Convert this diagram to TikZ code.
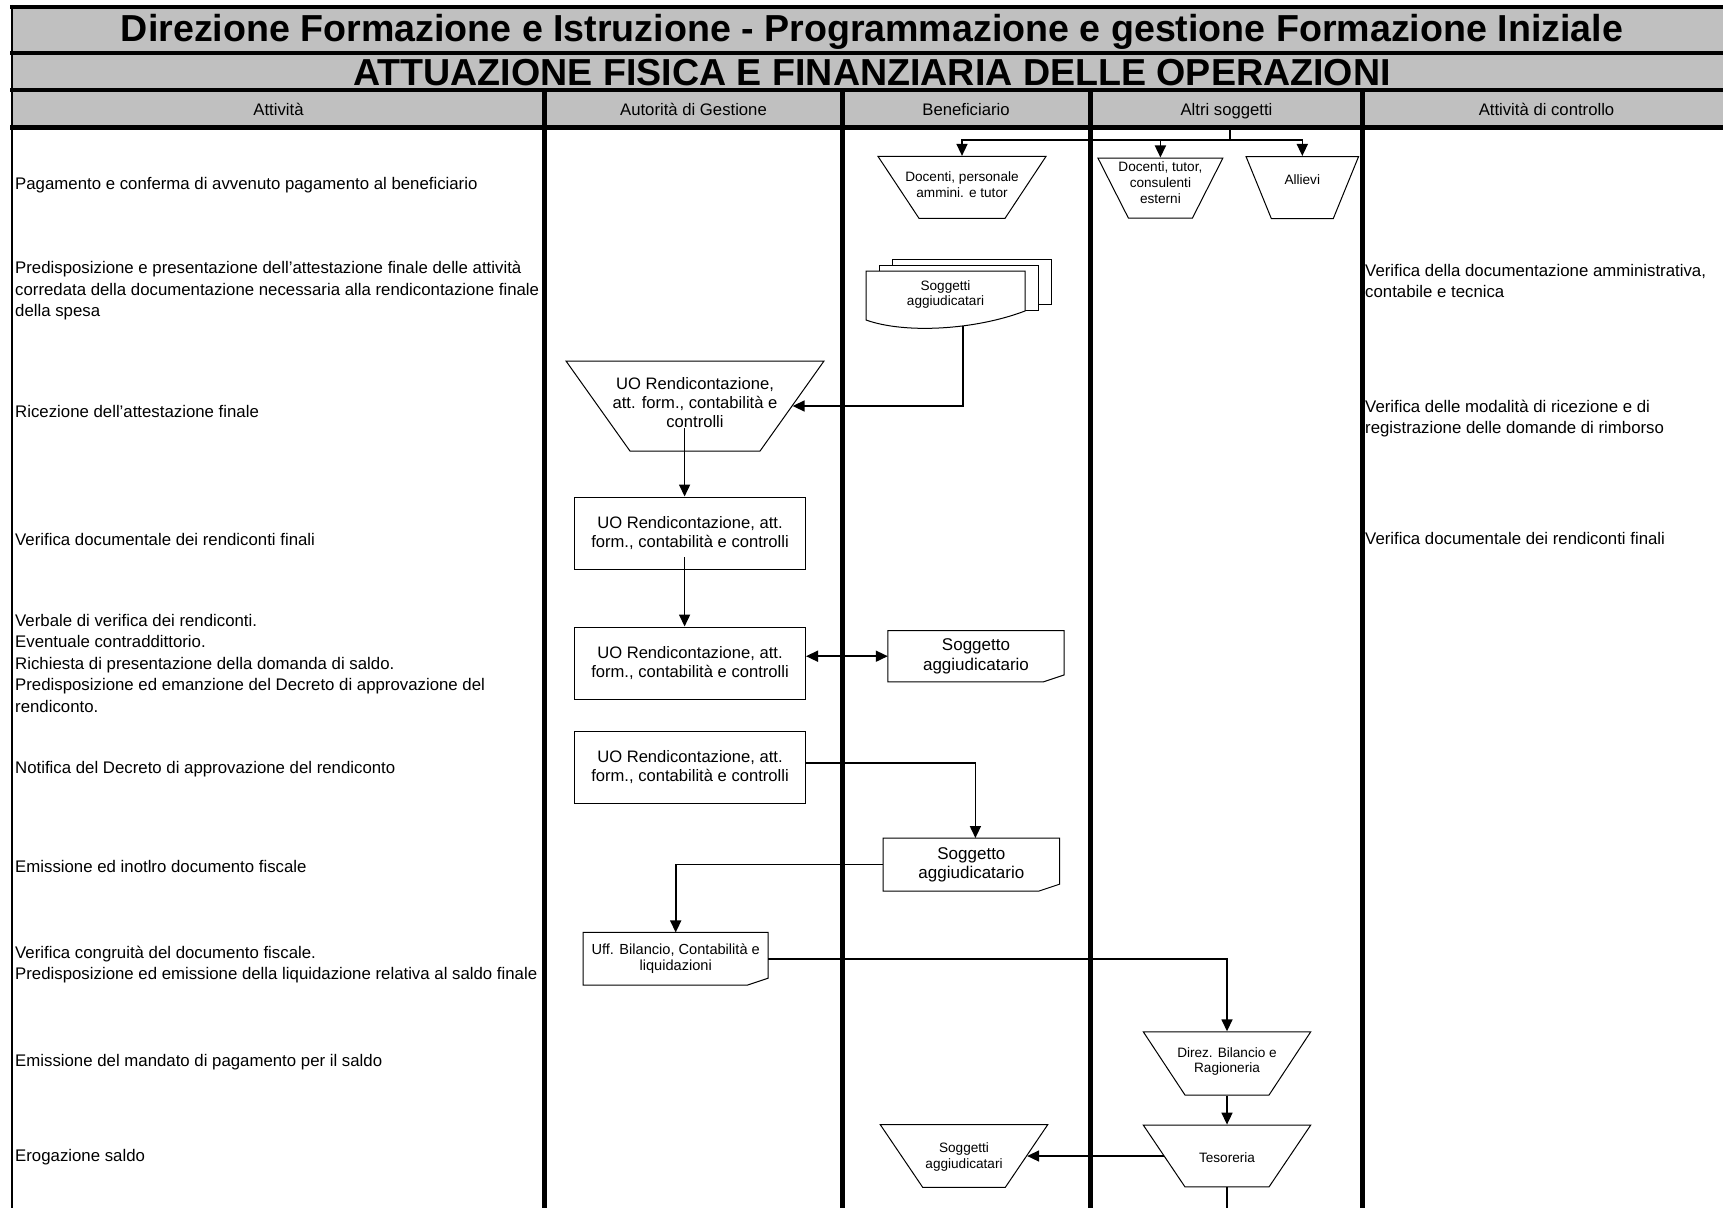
\documentclass[tikz,border=0pt]{standalone}
\usepackage{fontspec}
\setmainfont{Liberation Sans}
\usetikzlibrary{shapes.geometric,arrows.meta}

\definecolor{headgray}{RGB}{192,192,192}

% zero-width text block, so the text does not size the shape
\newcommand{\shapetext}[2][0pt]{\makebox[0pt]{\raisebox{#1}[\height][\depth]{\begin{tabular}{@{}c@{}}#2\end{tabular}}}}

\tikzset{
  rowrule/.style={line width=4.4pt},
  lanerule/.style={line width=4.3pt},
  bigtitle/.style={anchor=base, inner sep=0pt, font=\bfseries\fontsize{37.6}{40}\selectfont},
  colhead/.style={anchor=base, inner sep=0pt, font=\fontsize{16.7}{20}\selectfont},
  activity/.style={anchor=west, align=left, inner sep=0pt, font=\fontsize{16.8}{21.5}\selectfont},
  smalltext/.style={font=\fontsize{13.6}{15.8}\selectfont},
  midtext/.style={font=\fontsize{16.6}{19.3}\selectfont},
  % top width, half height, side angle
  manual/.style n args={3}{trapezium, trapezium angle=#3, shape border rotate=180,
    trapezium stretches body, minimum width=#1, text height=#2, text depth=#2,
    inner sep=0pt, draw, fill=white, line width=1pt},
  procbox/.style={rectangle, draw, fill=white, line width=1pt, inner sep=0pt,
    minimum width=231pt, minimum height=72pt, align=center, midtext},
  docbox/.style 2 args={rectangle, inner sep=0pt, align=center,
    minimum width=#1, minimum height=#2},
  flow/.style={line width=1.6pt, -{Triangle[length=12pt,width=11pt]}},
  twoway/.style={line width=1.6pt, {Triangle[length=12pt,width=11pt]}-{Triangle[length=12pt,width=11pt]}},
}

\begin{document}
\begin{tikzpicture}[x=1pt,y=-1pt]
  \useasboundingbox (0,0) rectangle (1723,1207);
  \clip (0,0) rectangle (1723,1207);
  \fill[white] (0,0) rectangle (1723,1207);

  % Header bands
  \fill[headgray] (12,7) rectangle (1735,127.5);
  \foreach \y in {7,53.3,90,127.5}
    \draw[rowrule] (10,\y) -- (1735,\y);

  % Left border and lane separators
  \draw[line width=2pt] (12,5) -- (12,1215);
  \foreach \x in {544.6,842.5,1090.5,1362.5}
    \draw[lanerule] (\x,90) -- (\x,1215);

  % Titles
  \node[bigtitle] (title) at (872,42) {Direzione Formazione e Istruzione - Programmazione e gestione Formazione Iniziale};
  \node[bigtitle] (subtitle) at (872,85) {ATTUAZIONE FISICA E FINANZIARIA DELLE OPERAZIONI};

  % Column headers
  \node[colhead] (hact) at (278.5,115) {Attività};
  \node[colhead] (hadg) at (693.5,115) {Autorità di Gestione};
  \node[colhead] (hben) at (966,115) {Beneficiario};
  \node[colhead] (halt) at (1226.5,115) {Altri soggetti};
  \node[colhead] (hctl) at (1546.5,115) {Attività di controllo};

  % Activities
  \node[activity] (act1) at (15,185) {Pagamento e conferma di avvenuto pagamento al beneficiario};
  \node[activity] (act2) at (15,291) {Predisposizione e presentazione dell'attestazione finale delle attività\\corredata della documentazione necessaria alla rendicontazione finale\\della spesa};
  \node[activity] (act3) at (15,411) {Ricezione dell'attestazione finale};
  \node[activity] (act4) at (15,539.5) {Verifica documentale dei rendiconti finali};
  \node[activity] (act5) at (15,663.2) {Verbale di verifica dei rendiconti.\\Eventuale contraddittorio.\\Richiesta di presentazione della domanda di saldo.\\Predisposizione ed emanzione del Decreto di approvazione del\\rendiconto.};
  \node[activity] (act6) at (15,769.3) {Notifica del Decreto di approvazione del rendiconto};
  \node[activity] (act7) at (15,866.7) {Emissione ed inotlro documento fiscale};
  \node[activity] (act8) at (15,964.3) {Verifica congruità del documento fiscale.\\Predisposizione ed emissione della liquidazione relativa al saldo finale};
  \node[activity] (act9) at (15,1062.6) {Emissione del mandato di pagamento per il saldo};
  \node[activity] (act10) at (15,1157) {Erogazione saldo};

  % Controls
  \node[activity] (ctl1) at (1365,281) {Verifica della documentazione amministrativa,\\contabile e tecnica};
  \node[activity] (ctl2) at (1365,418.7) {Verifica delle modalità di ricezione e di\\registrazione delle domande di rimborso};
  \node[activity] (ctl3) at (1365,538.3) {Verifica documentale dei rendiconti finali};

  % Payees of the final payment
  \node[manual={168pt}{31pt}{56.5}, smalltext] (docA) at (962,187.4) {\shapetext[-2.5pt]{Docenti, personale\\ammini. e tutor}};
  \node[manual={125pt}{30pt}{63.1}, smalltext] (docB) at (1160.4,188) {\shapetext{Docenti, tutor,\\consulenti\\esterni}};
  \node[manual={112.6pt}{31pt}{67.8}, smalltext] (allievi) at (1302.3,187.5) {\shapetext[3pt]{Allievi}};

  % Stack of beneficiaries
  \draw[line width=1pt, fill=white] (892,259) rectangle (1051.5,304);
  \draw[line width=1pt, fill=white] (879,265) rectangle (1038,310);
  \draw[line width=1pt, fill=white] (866,271) -- (1025,271) -- (1025,311)
    .. controls (975,330) and (905,334) .. (866,320) -- cycle;
  \node[docbox={159pt}{47pt}, smalltext] (stack) at (945.5,294.5) {Soggetti\\aggiudicatari};

  % Autorita di Gestione
  \node[manual={258pt}{45pt}{54.6}, midtext] (uo1) at (695,406) {\shapetext[-3pt]{UO Rendicontazione,\\att. form., contabilità e\\controlli}};
  \node[procbox] (uo2) at (690,533) {UO Rendicontazione, att.\\form., contabilità e controlli};
  \node[procbox] (uo3) at (690,663) {UO Rendicontazione, att.\\form., contabilità e controlli};
  \node[procbox] (uo4) at (690,767) {UO Rendicontazione, att.\\form., contabilità e controlli};

  % Documents
  \node[docbox={176pt}{51pt}, font=\fontsize{17}{19.5}\selectfont] (s1) at (976,656.2) {Soggetto\\aggiudicatario};
  \node[docbox={176pt}{52.7pt}, font=\fontsize{17}{19}\selectfont] (s2) at (971.4,864.6) {Soggetto\\aggiudicatario};
  \node[docbox={184.6pt}{52.3pt}, font=\fontsize{14.6}{15.5}\selectfont] (uff) at (675.7,958.8) {Uff. Bilancio, Contabilità e\\liquidazioni};
  \foreach \d in {s1,s2,uff}
    \draw[line width=1pt] (\d.north west) -- (\d.north east) -- ([yshift=7pt]\d.south east)
      -- ([xshift=-21pt]\d.south east) -- (\d.south west) -- cycle;

  % Treasury chain
  \node[manual={167.4pt}{31.6pt}{56.6}, smalltext] (direz) at (1227,1063.4) {\shapetext[-2pt]{Direz. Bilancio e\\Ragioneria}};
  \node[manual={167.4pt}{30.9pt}{56.0}, smalltext] (tes) at (1227,1156) {\shapetext[-6.5pt]{Tesoreria}};
  \node[manual={167.4pt}{31.3pt}{55.9}, smalltext] (sogg) at (964,1156) {\shapetext[-5pt]{Soggetti\\aggiudicatari}};

  \coordinate (feed) at (1230,129.7);
  \coordinate (fork) at (1230,140);
  \coordinate (tesout) at (1227,1215);

  % Connectors
  \draw[line width=1.6pt] (feed) -- (fork);
  \draw[flow] (fork) -| (docA);
  \draw[flow] (fork) -| (docB);
  \draw[flow] (fork) -| (allievi);
  \draw[flow] ([xshift=17.5pt,yshift=-8pt]stack.south) |- (uo1);
  \draw[flow] ([xshift=-10.4pt,yshift=-22pt]uo1.center) -- ([xshift=-5.4pt]uo2.north);
  \draw[flow] ([xshift=-5.4pt,yshift=-24pt]uo2.center) -- ([xshift=-5.4pt]uo3.north);
  \draw[twoway] (s1.west -| uo3.east) -- (s1.west);
  \draw[flow] ([yshift=4pt]uo4.east) -| ([xshift=4pt]s2.north);
  \draw[flow] (s2.west) -| (uff.north);
  \draw[flow] (uff.east) -| (direz);
  \draw[flow] (direz) -- (tes);
  \draw[flow] (tes) -- (sogg);
  \draw[line width=1.6pt] (tes) -- (tesout);
\end{tikzpicture}
\end{document}
